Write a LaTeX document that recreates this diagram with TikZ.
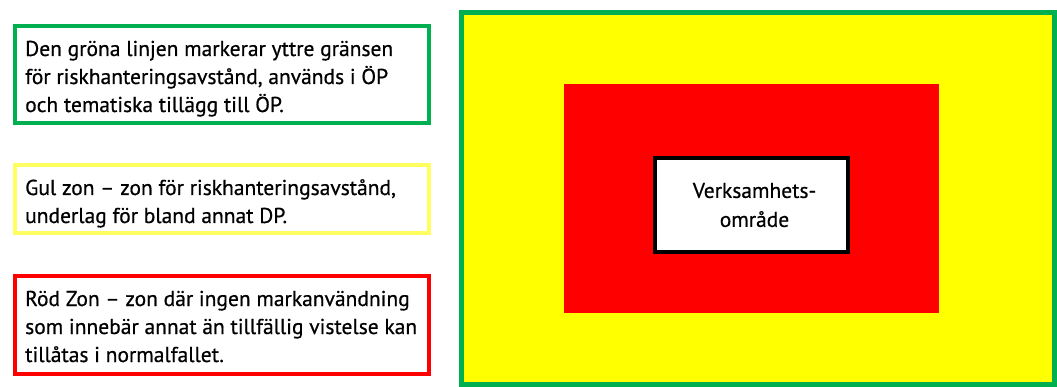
\documentclass[tikz,border=0pt]{standalone}
\usepackage{fontspec}
\setmainfont[FakeBold=0.6]{PT Sans}
\definecolor{zgreen}{HTML}{00B050}
\definecolor{zyellow}{HTML}{FFFF00}
\definecolor{zpaleyellow}{HTML}{FFFF60}
\definecolor{zred}{HTML}{FF0000}
\begin{document}
\begin{tikzpicture}[x=1pt,y=-1pt,
  legendbox/.style={draw, line width=4pt, fill=white, inner sep=0pt},
  legendtext/.style={anchor=base west, align=left, inner sep=0pt,
    font=\fontsize{21.5}{28}\selectfont},
  zone/.style={inner sep=0pt},
  core/.style={draw=black, fill=white, line width=4pt, inner sep=0pt}]
\useasboundingbox (0,0) rectangle (1057,387);

% legend boxes (text nodes are anchored at the baseline of their last line)
\node[legendbox, draw=zgreen, minimum width=414pt, minimum height=97pt] (gbox) at (222,74.5) {};
\node[legendtext] (gtext) at (25,112)
  {Den gröna linjen markerar yttre gränsen\\för riskhanteringsavstånd, används i ÖP\\och tematiska tillägg till ÖP.};

\node[legendbox, draw=zpaleyellow, minimum width=414pt, minimum height=68pt] (ybox) at (222,199) {};
\node[legendtext] (ytext) at (25,223)
  {Gul zon – zon för riskhanteringsavstånd,\\underlag för bland annat DP.};

\node[legendbox, draw=zred, minimum width=414pt, minimum height=98pt] (rbox) at (222,325) {};
\node[legendtext] (rtext) at (25,362)
  {Röd Zon – zon där ingen markanvändning\\som innebär annat än tillfällig vistelse kan\\tillåtas i normalfallet.};

% zone plan
\node[zone, draw=zgreen, line width=5pt, fill=zyellow, minimum width=593pt, minimum height=372pt] (yzone) at (758,198.5) {};
\node[zone, fill=zred, minimum width=375pt, minimum height=229pt] (rzone) at (751.5,198.5) {};
\node[core, minimum width=193pt, minimum height=94pt] (area) at (751.5,205) {};
\node[align=center, inner sep=0pt, font=\fontsize{21.5}{29}\selectfont] (areatext) at (754.5,205) {Verksamhets-\\område};
\end{tikzpicture}
\end{document}
